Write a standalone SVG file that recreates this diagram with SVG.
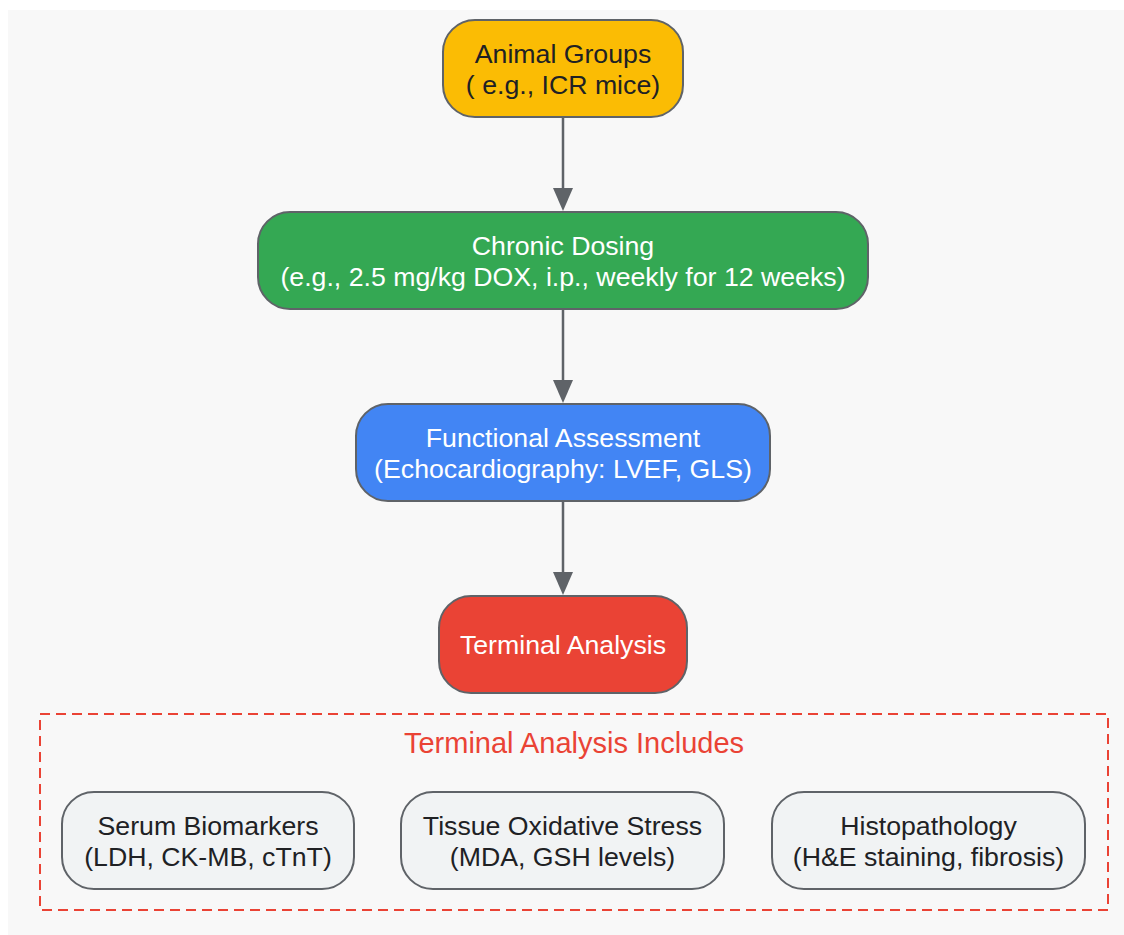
<svg xmlns="http://www.w3.org/2000/svg" width="1124" height="935" viewBox="0 0 1124 935">
<defs>
<style>
.n{stroke:#5f6368;stroke-width:2}
.t{font-family:"Liberation Sans",Arial,sans-serif;font-size:26.7px;text-anchor:middle}
.w{fill:#ffffff}
.d{fill:#202124}
.e{stroke:#5f6368;stroke-width:2.5;fill:none}
.h{fill:#5f6368}
</style>
</defs>
<rect x="8" y="10" width="1116" height="925" fill="#f8f8f8"/>
<g id="connectors">
<line class="e" x1="563" y1="117" x2="563" y2="188"/>
<path class="h" d="M553,188 L573,188 L563,211 Z"/>
<line class="e" x1="563" y1="309" x2="563" y2="380"/>
<path class="h" d="M553,380 L573,380 L563,403 Z"/>
<line class="e" x1="563" y1="501" x2="563" y2="572"/>
<path class="h" d="M553,572 L573,572 L563,595 Z"/>
</g>
<g id="animal-groups">
<rect class="n" x="443" y="20" width="240" height="97" rx="32" fill="#fbbc04"/>
<text class="t d" x="563" y="63">Animal Groups</text>
<text class="t d" x="563" y="94">( e.g., ICR mice)</text>
</g>
<g id="chronic-dosing">
<rect class="n" x="258" y="212" width="610" height="97" rx="32" fill="#34a853"/>
<text class="t w" x="563" y="255">Chronic Dosing</text>
<text class="t w" x="563" y="286">(e.g., 2.5 mg/kg DOX, i.p., weekly for 12 weeks)</text>
</g>
<g id="functional-assessment">
<rect class="n" x="356" y="404" width="414" height="97" rx="32" fill="#4285f4"/>
<text class="t w" x="563" y="447">Functional Assessment</text>
<text class="t w" x="563" y="478">(Echocardiography: LVEF, GLS)</text>
</g>
<g id="terminal-analysis">
<rect class="n" x="439" y="596" width="248" height="97" rx="32" fill="#ea4335"/>
<text class="t w" x="563" y="654">Terminal Analysis</text>
</g>
<g id="cluster">
<rect x="40" y="714" width="1068" height="196" fill="none" stroke="#ea4335" stroke-width="2" stroke-dasharray="10,6"/>
<text class="t" x="574" y="753" fill="#ea4335" style="font-size:29px">Terminal Analysis Includes</text>
</g>
<g id="serum-biomarkers">
<rect class="n" x="62" y="792" width="292" height="97" rx="32" fill="#f1f3f4"/>
<text class="t d" x="208" y="835">Serum Biomarkers</text>
<text class="t d" x="208" y="866">(LDH, CK-MB, cTnT)</text>
</g>
<g id="tissue-oxidative-stress">
<rect class="n" x="401" y="792" width="323" height="97" rx="32" fill="#f1f3f4"/>
<text class="t d" x="562.5" y="835">Tissue Oxidative Stress</text>
<text class="t d" x="562.5" y="866">(MDA, GSH levels)</text>
</g>
<g id="histopathology">
<rect class="n" x="772" y="792" width="313" height="97" rx="32" fill="#f1f3f4"/>
<text class="t d" x="928.5" y="835">Histopathology</text>
<text class="t d" x="928.5" y="866">(H&amp;E staining, fibrosis)</text>
</g>
</svg>
